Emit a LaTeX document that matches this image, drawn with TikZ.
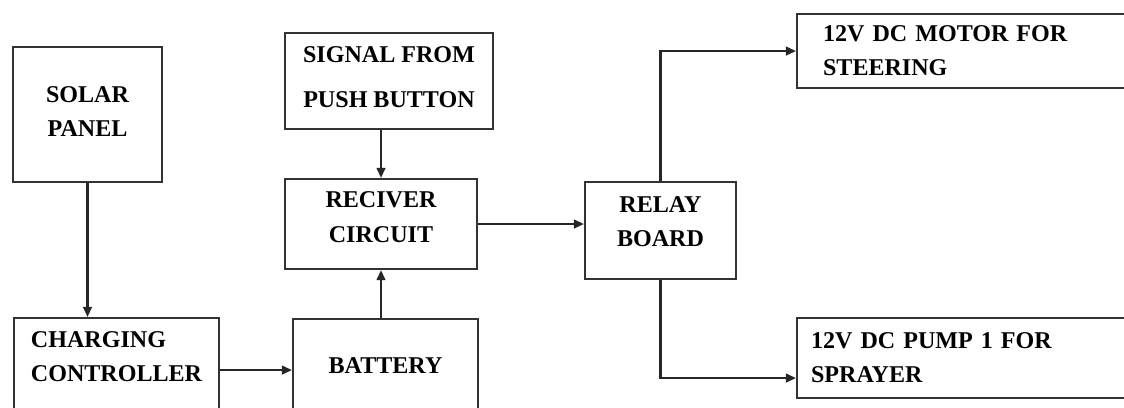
\documentclass[tikz,border=0pt]{standalone}
\usepackage{fontspec}
\setmainfont{Liberation Serif}
\usetikzlibrary{arrows.meta,positioning}

\begin{document}
\begin{tikzpicture}[
    x=0.02cm, y=-0.02cm,
    block/.style={
        draw=black!80, line width=1.2pt,
        font=\fontsize{13.7}{19.4}\selectfont\bfseries,
        align=center, inner sep=0pt
    },
    flow/.style={
        draw=black!85, line width=1.2pt,
        -{Triangle[length=5.8pt,width=5pt]}
    }
]

\clip (0,0) rectangle (1124,407);

% Left column
\node[block, minimum width=2.98cm, minimum height=2.70cm, text depth=0.12cm] (solar) at (87.5,114.5) {SOLAR\\PANEL};
\node[block, anchor=north west, align=left, minimum width=4.1cm,
      inner xsep=0.3cm, inner ysep=0.26cm, text depth=0.56cm] (charging) at (13,317) {CHARGING\\CONTROLLER};

% Middle column
\node[block, minimum width=4.16cm, minimum height=1.92cm, text depth=0.15cm] (signal) at (389,81) {SIGNAL FROM\\[0.22cm]PUSH BUTTON};
\node[block, minimum width=3.84cm, minimum height=1.80cm, text depth=0.28cm] (receiver) at (381,224) {RECIVER\\CIRCUIT};
\node[block, anchor=north west, minimum width=3.7cm, minimum height=2.04cm, text depth=0.2cm] (battery) at (292,318) {BATTERY};

% Relay and loads
\node[block, minimum width=3.02cm, minimum height=1.94cm, text depth=0.36cm] (relay) at (660.5,230.5) {RELAY\\BOARD};
\node[block, anchor=north west, align=left, text width=6.2cm, inner xsep=0.52cm,
      minimum height=1.48cm] (motor) at (796,13) {12V DC MOTOR FOR\\STEERING};
\node[block, anchor=north west, align=left, text width=6.6cm, inner xsep=0.28cm,
      minimum height=1.6cm] (pump) at (796,317) {12V DC PUMP 1 FOR\\SPRAYER};

% Connections
\draw[flow] (solar.south) -- (solar.south |- charging.north);
\draw[flow] (charging.east |- battery.west) -- (battery.west);
\draw[flow] (battery.north -| receiver.south) -- (receiver.south);
\draw[flow] (signal.south -| receiver.north) -- (receiver.north);
\draw[flow] (receiver.east) -- (receiver.east -| relay.west);
\draw[flow] (relay.north) |- (motor.west);
\draw[flow] (relay.south) |- ([yshift=-0.4cm]pump.west);

\end{tikzpicture}
\end{document}
